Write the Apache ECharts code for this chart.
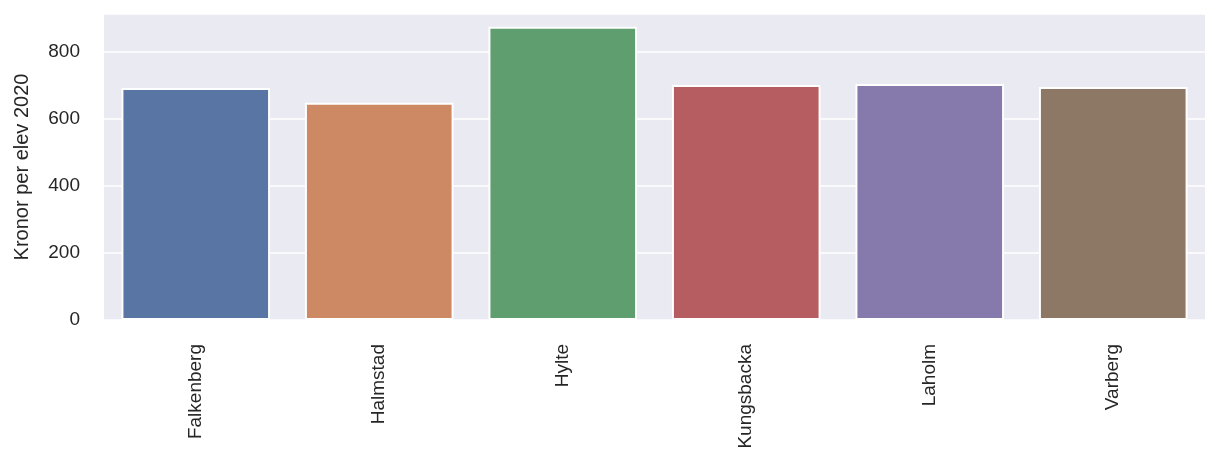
<!DOCTYPE html>
<html>
<head>
<meta charset="utf-8">
<script src="https://cdn.jsdelivr.net/npm/echarts@6/dist/echarts.min.js"></script>
<style>html,body{margin:0;padding:0;background:#fff}#main{width:1205px;height:463px}</style>
</head>
<body>
<div id="main"></div>
<script>
var kommuner = ['Falkenberg', 'Halmstad', 'Hylte', 'Kungsbacka', 'Laholm', 'Varberg'];
var kronor = [692, 648, 875, 701, 704, 695];
var colors = ['#5975a4', '#cc8963', '#5f9e6e', '#b55d60', '#857aab', '#8d7866'];
var yTicks = [0, 200, 400, 600, 800];

var chart = echarts.init(document.getElementById('main'));
var data = [];
for (var i = 0; i < kronor.length; i++) {
    data.push({value: kronor[i], itemStyle: {color: colors[i]}});
}
chart.setOption({
    animation: false,
    grid: {left: 104, width: 1112, top: 14, bottom: 143, backgroundColor: '#eaeaf2', show: true, borderWidth: 0},
    xAxis: {
        type: 'category',
        data: kommuner,
        axisLine: {show: false},
        axisTick: {show: false},
        axisLabel: {rotate: 90, fontSize: 19, color: '#262626', margin: 24, fontFamily: 'Liberation Sans'}
    },
    yAxis: {
        type: 'value',
        min: 0, max: 913, interval: 200,
        name: 'Kronor per elev 2020',
        nameLocation: 'middle',
        nameGap: 72,
        nameTextStyle: {fontSize: 20, color: '#262626', fontFamily: 'Liberation Sans'},
        axisLabel: {fontSize: 19, color: '#262626', margin: 24, fontFamily: 'Liberation Sans',
            formatter: function (v) { return yTicks.indexOf(v) >= 0 ? v : ''; }},
        splitLine: {lineStyle: {color: '#ffffff', width: 1.5}},
        axisLine: {show: false},
        axisTick: {show: false}
    },
    series: [{
        type: 'bar',
        data: data,
        barCategoryGap: '19%',
        itemStyle: {borderColor: '#ffffff', borderWidth: 2}
    }]
});
</script>
</body>
</html>
